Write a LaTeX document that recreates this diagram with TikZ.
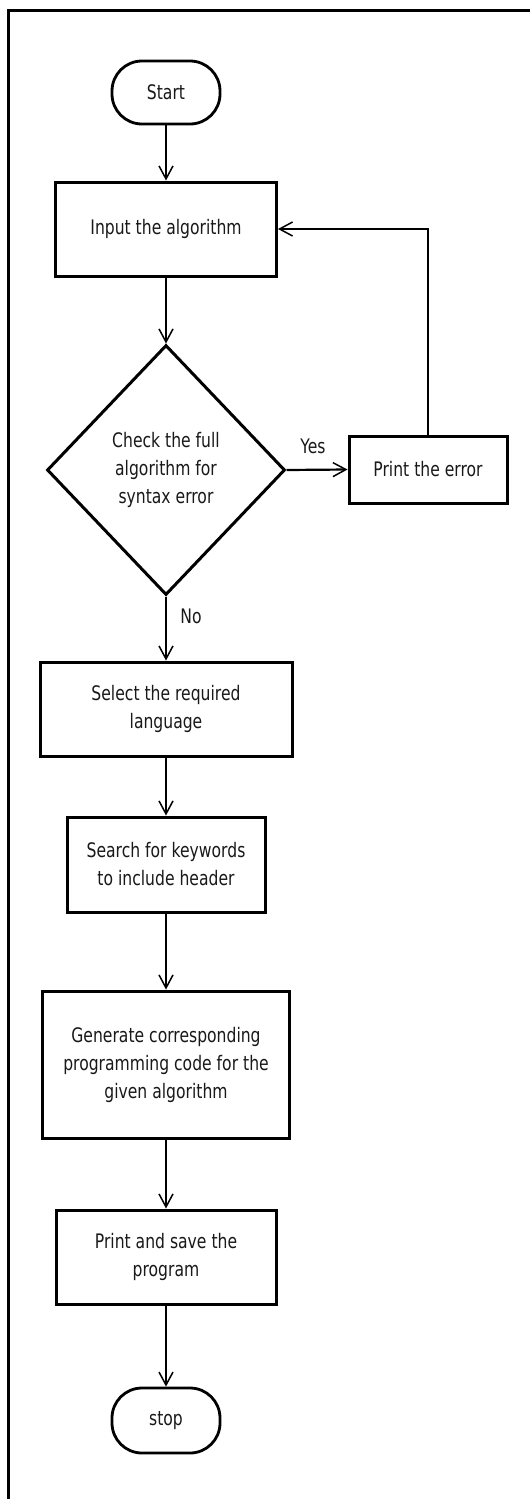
\documentclass[tikz,border=0pt]{standalone}
\usepackage{fontspec}
\newfontfamily\diafont[FakeStretch=0.78]{DejaVu Sans}
\usetikzlibrary{shapes.geometric,arrows.meta}
\begin{document}
\begin{tikzpicture}[x=1pt,y=-1pt,
  every node/.style={font=\diafont\fontsize{20}{28}\selectfont, text=black!90, align=center, inner sep=0pt},
  box/.style={draw=black, line width=3pt, rectangle},
  term/.style={draw=black, line width=2.8pt, rectangle, rounded corners=30pt, minimum width=108pt, minimum height=63pt},
  dec/.style={draw=black, line width=3pt, diamond, minimum width=238pt, minimum height=250pt},
  conn/.style={line width=2.2pt, -{Straight Barb[length=13pt,width=14pt,line width=1.5pt]}},
  lab/.style={font=\diafont\fontsize{20}{22}\selectfont}
]
\useasboundingbox (0,0) rectangle (530,1499);
\draw[line width=3pt] (8.5,1499) -- (8.5,10.5) -- (530,10.5);

\node[term] (start) at (166,92.5) {Start};
\node[box, minimum width=221pt, minimum height=94pt] (input) at (166,229) {Input the algorithm};
\node[dec] (check) at (166,470) {Check the full\\algorithm for\\syntax error};
\node[box, minimum width=158pt, minimum height=67pt] (err) at (428,469.5) {Print the error};
\node[box, minimum width=252pt, minimum height=94pt] (select) at (166,709) {Select the required\\language};
\node[box, minimum width=198pt, minimum height=95pt] (search) at (166,864.5) {Search for keywords\\to include header};
\node[box, minimum width=247pt, minimum height=147pt] (gen) at (166,1064.5) {Generate corresponding\\programming code for the\\given algorithm};
\node[box, minimum width=220pt, minimum height=94pt] (save) at (166,1257) {Print and save the\\program};
\node[term, minimum height=65pt] (stop) at (166,1420.5) {stop};

\draw[conn] (start.south) -- (input.north);
\draw[conn] (input.south) -- (check.north);
\draw[conn] (check.east) -- (err.west);
\draw[conn] (err.north) |- (input.east);
\draw[conn] (check.south) -- (select.north);
\draw[conn] (select.south) -- (search.north);
\draw[conn] (search.south) -- (gen.north);
\draw[conn] (gen.south) -- (save.north);
\draw[conn] (save.south) -- (stop.north);

\node[lab] (yes) at (313,446) {Yes};
\node[lab] (no) at (191,616) {No};
\end{tikzpicture}
\end{document}
